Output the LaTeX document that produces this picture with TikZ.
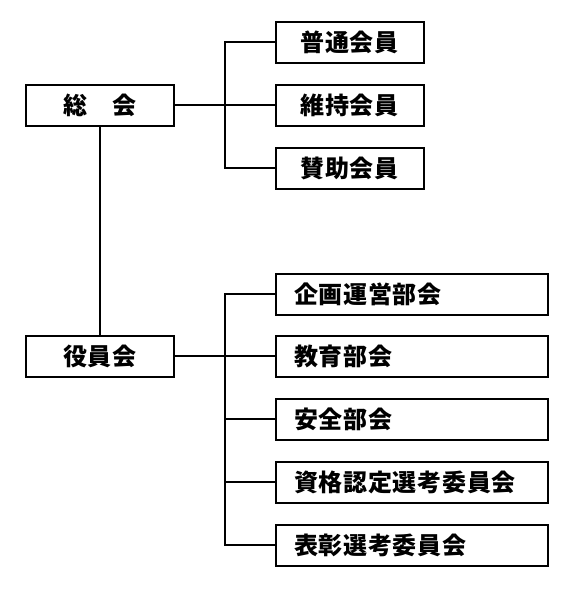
\documentclass[tikz,border=0pt]{standalone}
\usepackage{fontspec}
\setmainfont{Noto Sans CJK JP}[LetterSpace=3]
\usetikzlibrary{positioning}

\begin{document}
\begin{tikzpicture}[x=1pt,y=-1pt,line width=2pt]
    \tikzstyle{box}=[draw=black, rectangle, minimum width=148pt, minimum height=41pt, inner sep=0pt, text=black, font=\fontsize{24}{24}\selectfont\bfseries]
    \tikzstyle{wide}=[style=box, text width=236pt, align=left, inner xsep=18pt]

    \useasboundingbox (0,0) rectangle (576,589);

    \node[box] (sokai)  at (100,105)   {総　会};
    \node[box] (yakuin) at (100,356)   {役員会};
    \node[box] (futsu)  at (349.5,42)  {普通会員};
    \node[box] (iji)    at (349.5,105) {維持会員};
    \node[box] (sanjo)  at (349.5,168) {賛助会員};
    \node[wide] (kikaku) at (412,294) {企画運営部会};
    \node[wide] (kyoiku) at (412,356) {教育部会};
    \node[wide] (anzen)  at (412,419) {安全部会};
    \node[wide] (shikaku) at (412,482) {資格認定選考委員会};
    \node[wide] (hyosho) at (412,545) {表彰選考委員会};

    \coordinate (j1) at (225,105);
    \coordinate (j2) at (225,356);

    \draw (sokai) -- (yakuin);
    \draw (sokai) -- (iji);
    \draw (j1) |- (futsu);
    \draw (j1) |- (sanjo);
    \draw (yakuin) -- (kyoiku);
    \draw (j2) |- (kikaku);
    \draw (j2) |- (anzen);
    \draw (j2) |- (shikaku);
    \draw (j2) |- (hyosho);
\end{tikzpicture}
\end{document}
